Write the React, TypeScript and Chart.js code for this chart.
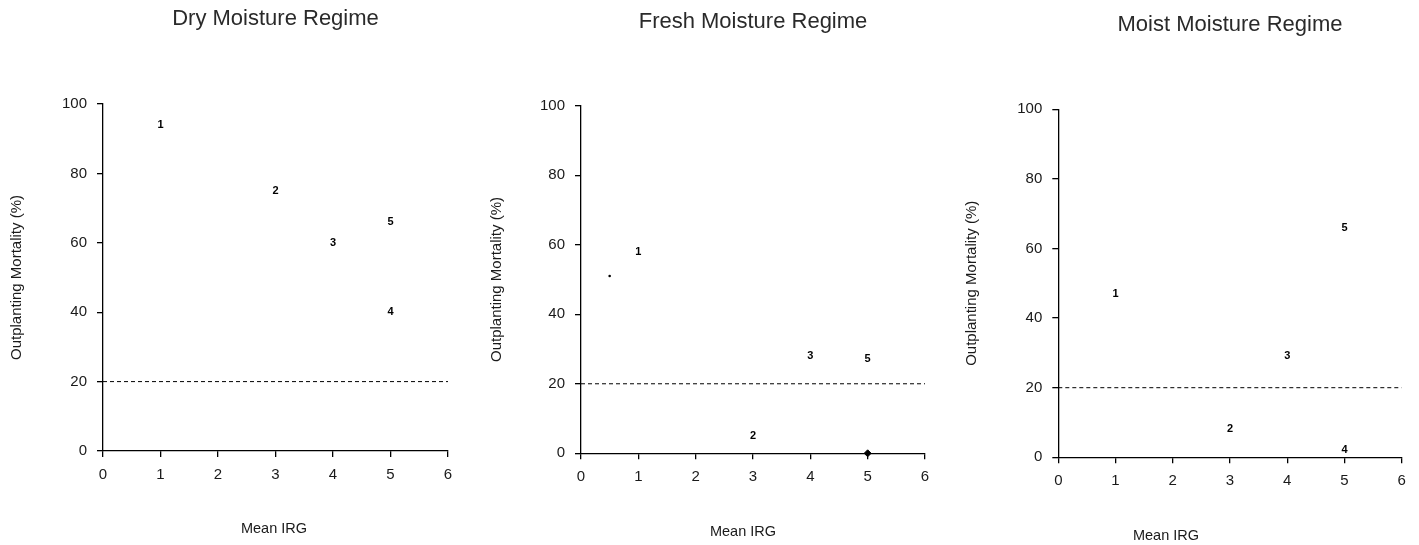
import React, { useEffect, useRef } from 'react';
import { Chart, registerables } from 'chart.js';

Chart.register(...registerables);

// Axis ticks shared by the three panels
const irgTicks = [0, 1, 2, 3, 4, 5, 6];
const mortalityTicks = [0, 20, 40, 60, 80, 100];
const thresholdMortality = 20;

// Dry moisture regime: numbered seedlots
const dryIRG = [1, 3, 4, 5, 5];
const dryMortality = [94, 75, 60, 66, 40];
const dryLabels = ['1', '2', '3', '5', '4'];

// Fresh moisture regime
const freshIRG = [1, 3, 4, 5];
const freshMortality = [58, 5, 28, 27];
const freshLabels = ['1', '2', '3', '5'];
const freshDotIRG = [0.5];
const freshDotMortality = [51];
const freshMarkIRG = [5];
const freshMarkMortality = [0];

// Moist moisture regime
const moistIRG = [1, 3, 4, 5, 5];
const moistMortality = [47, 8, 29, 2, 66];
const moistLabels = ['1', '2', '3', '4', '5'];

const titles = ['Dry Moisture Regime', 'Fresh Moisture Regime', 'Moist Moisture Regime'];
const yTitle = 'Outplanting Mortality (%)';
const xTitle = 'Mean IRG';

const FONT = "'Liberation Sans', Arial, sans-serif";
const INK = '#1a1a1a';
const PAGE_H = 545;

type Pt = { x: number; y: number };
const zip = (xs: number[], ys: number[]): Pt[] => xs.map((x, i) => ({ x, y: ys[i] }));

// Page-space layout of each panel
const panels = [
  { left: 0, width: 475, plotLeft: 103, plotRight: 448, plotTop: 104, plotBottom: 451, titleY: 18.5, yTitleX: 17, captionX: 274, captionY: 529 },
  { left: 475, width: 475, plotLeft: 581, plotRight: 925, plotTop: 105.7, plotBottom: 453.3, titleY: 21.5, yTitleX: 497, captionX: 743, captionY: 532 },
  { left: 950, width: 469, plotLeft: 1058.3, plotRight: 1401.7, plotTop: 109.3, plotBottom: 457.3, titleY: 25, yTitleX: 972, captionX: 1166, captionY: 536 },
];

// Draws each dataset's numbered labels centred on its points
const pointTextPlugin = {
  id: 'pointText',
  afterDatasetsDraw(chart: any) {
    const ctx = chart.ctx;
    chart.data.datasets.forEach((ds: any, i: number) => {
      if (!ds.pointText) return;
      const meta = chart.getDatasetMeta(i);
      ctx.save();
      ctx.font = `bold 11px ${FONT}`;
      ctx.fillStyle = '#000';
      ctx.textAlign = 'center';
      ctx.textBaseline = 'middle';
      meta.data.forEach((el: any, j: number) => ctx.fillText(ds.pointText[j], el.x, el.y));
      ctx.restore();
    });
  },
};

// Horizontal-axis caption placed under the axis
const captionPlugin = {
  id: 'caption',
  afterDraw(chart: any, _args: any, opts: any) {
    if (!opts || !opts.text) return;
    const ctx = chart.ctx;
    ctx.save();
    ctx.font = `14.5px ${FONT}`;
    ctx.fillStyle = INK;
    ctx.textAlign = 'center';
    ctx.textBaseline = 'middle';
    ctx.fillText(opts.text, opts.x, opts.y);
    ctx.restore();
  },
};

function buildDatasets(idx: number): any[] {
  const threshold = {
    type: 'line',
    data: zip([irgTicks[0], irgTicks[irgTicks.length - 1]], [thresholdMortality, thresholdMortality]),
    borderColor: '#000',
    borderWidth: 1,
    borderDash: [4, 3],
    pointRadius: 0,
    showLine: true,
    order: 2,
  };
  const labelled = (xs: number[], ys: number[], labels: string[]) => ({
    data: zip(xs, ys),
    pointRadius: 0,
    pointText: labels,
    clip: false,
  });
  if (idx === 0) return [threshold, labelled(dryIRG, dryMortality, dryLabels)];
  if (idx === 1)
    return [
      threshold,
      labelled(freshIRG, freshMortality, freshLabels),
      { data: zip(freshDotIRG, freshDotMortality), pointRadius: 1.3, backgroundColor: '#000', borderWidth: 0, clip: false },
      { data: zip(freshMarkIRG, freshMarkMortality), pointStyle: 'rectRot', pointRadius: 3.5, backgroundColor: '#000', borderColor: '#000', borderWidth: 1, clip: false },
    ];
  return [threshold, labelled(moistIRG, moistMortality, moistLabels)];
}

function Panel({ idx }: { idx: number }) {
  const ref = useRef<HTMLCanvasElement>(null);
  const p = panels[idx];
  useEffect(() => {
    if (!ref.current) return;
    const yAxisWidth = p.plotLeft - p.left;
    const xAxisHeight = PAGE_H - p.plotBottom;
    const rightPad = p.left + p.width - p.plotRight;
    const titleLine = 22 * 1.2;
    const titlePadTop = p.titleY - titleLine / 2;
    const titlePadBottom = p.plotTop - titlePadTop - titleLine;
    const axisLine = { display: true, color: '#000', width: 1.3 };
    const tickGrid = { drawOnChartArea: false, drawTicks: true, tickLength: 6, color: '#000', lineWidth: 1.3 };
    const chart = new Chart(ref.current, {
      type: 'scatter',
      data: { datasets: buildDatasets(idx) },
      options: {
        animation: false,
        responsive: false,
        devicePixelRatio: 1,
        layout: { padding: { top: 0, left: 0, bottom: 0, right: rightPad } },
        plugins: {
          legend: { display: false },
          tooltip: { enabled: false },
          title: {
            display: true,
            text: titles[idx],
            fullSize: false,
            color: '#2a2a2a',
            font: { family: FONT, size: 22, weight: 'normal', lineHeight: 1.2 },
            padding: { top: titlePadTop, bottom: titlePadBottom },
          },
          caption: { text: xTitle, x: p.captionX - p.left, y: p.captionY },
        } as any,
        scales: {
          x: {
            type: 'linear',
            min: irgTicks[0],
            max: irgTicks[irgTicks.length - 1],
            afterBuildTicks: (s: any) => { s.ticks = irgTicks.map((v) => ({ value: v })); },
            afterFit: (s: any) => { s.height = xAxisHeight; },
            border: axisLine,
            grid: tickGrid,
            ticks: { font: { family: FONT, size: 15 }, color: INK, padding: 9, maxRotation: 0, autoSkip: false },
          },
          y: {
            type: 'linear',
            min: mortalityTicks[0],
            max: mortalityTicks[mortalityTicks.length - 1],
            afterBuildTicks: (s: any) => { s.ticks = mortalityTicks.map((v) => ({ value: v })); },
            afterFit: (s: any) => { s.width = yAxisWidth; },
            border: axisLine,
            grid: tickGrid,
            ticks: { font: { family: FONT, size: 15 }, color: INK, padding: 10, autoSkip: false },
            title: {
              display: true,
              text: yTitle,
              color: INK,
              font: { family: FONT, size: 15, lineHeight: 1.2 },
              padding: { top: p.yTitleX - p.left - 9, bottom: 0 },
            },
          },
        },
      } as any,
      plugins: [pointTextPlugin, captionPlugin],
    });
    return () => chart.destroy();
  }, [idx]);
  return (
    <canvas
      ref={ref}
      width={p.width}
      height={PAGE_H}
      style={{ position: 'absolute', left: p.left, top: 0, width: p.width, height: PAGE_H }}
    />
  );
}

export default function App() {
  return (
    <div style={{ position: 'absolute', left: 0, top: 0, width: 1419, height: PAGE_H, background: '#fff' }}>
      {panels.map((_, i) => (
        <Panel key={i} idx={i} />
      ))}
    </div>
  );
}
